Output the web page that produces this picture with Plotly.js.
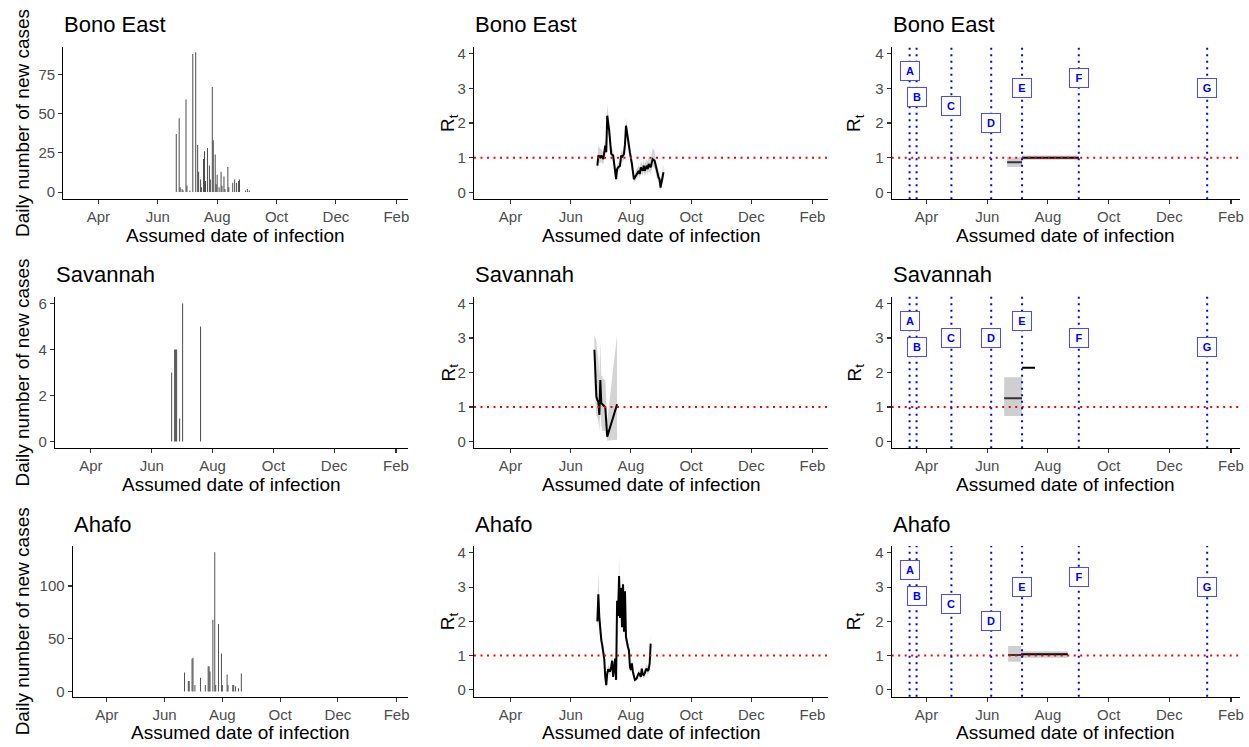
<!DOCTYPE html>
<html>
<head>
<meta charset="utf-8">
<script src="https://cdn.plot.ly/plotly-3.0.1.min.js"></script>
<style>html,body{margin:0;padding:0;background:#fff;}#chart{width:1249px;height:747px;}</style>
</head>
<body>
<div id="chart"></div>
<script>
// ---------------- DATA ----------------
const regions = ['Bono East', 'Savannah', 'Ahafo'];
const tickDates = ['2020-04-01','2020-06-01','2020-08-01','2020-10-01','2020-12-01','2021-02-01'];
const tickLabels = ['Apr','Jun','Aug','Oct','Dec','Feb'];

// Daily new cases
const beCaseDates = ['2020-06-20','2020-06-23','2020-06-24','2020-06-26','2020-06-27','2020-06-30','2020-07-01','2020-07-04','2020-07-07','2020-07-10','2020-07-12','2020-07-13','2020-07-15','2020-07-16','2020-07-18','2020-07-19','2020-07-20','2020-07-22','2020-07-24','2020-07-25','2020-07-27','2020-07-28','2020-07-30','2020-07-31','2020-08-01','2020-08-03','2020-08-05','2020-08-06','2020-08-08','2020-08-09','2020-08-12','2020-08-13','2020-08-17','2020-08-19','2020-08-21','2020-08-23','2020-08-24','2020-08-30','2020-09-01','2020-09-03'];
const beCases = [37,47,3,2,1,59,4,1,88,89,30,13,8,3,21,26,7,28,17,8,67,33,24,5,11,3,13,4,10,2,16,3,6,8,6,7,8,1,2,1];
const svCaseDates = ['2020-06-21','2020-06-24','2020-06-25','2020-06-26','2020-06-29','2020-07-02','2020-07-20'];
const svCases = [3,4,4,4,1,6,5];
const ahCaseDates = ['2020-06-22','2020-06-26','2020-06-27','2020-06-30','2020-07-01','2020-07-03','2020-07-09','2020-07-14','2020-07-17','2020-07-18','2020-07-19','2020-07-22','2020-07-24','2020-07-25','2020-07-28','2020-07-31','2020-08-01','2020-08-06','2020-08-07','2020-08-12','2020-08-13','2020-08-15','2020-08-18','2020-08-21'];
const ahCases = [18,10,10,31,32,6,13,6,24,24,19,68,132,6,64,36,6,16,6,6,6,5,3,17];

// Time-varying Rt (mean, lower, upper)
const beRtDates = ['2020-06-28','2020-06-29','2020-07-01','2020-07-02','2020-07-04','2020-07-06','2020-07-07','2020-07-08','2020-07-10','2020-07-11','2020-07-12','2020-07-14','2020-07-15','2020-07-17','2020-07-18','2020-07-19','2020-07-21','2020-07-22','2020-07-23','2020-07-25','2020-07-26','2020-07-27','2020-07-29','2020-07-30','2020-07-31','2020-08-02','2020-08-03','2020-08-04','2020-08-06','2020-08-07','2020-08-09','2020-08-10','2020-08-11','2020-08-13','2020-08-14','2020-08-15','2020-08-17','2020-08-18','2020-08-19','2020-08-21','2020-08-22','2020-08-23','2020-08-25','2020-08-26','2020-08-27','2020-08-29','2020-08-30','2020-08-31','2020-09-02','2020-09-03'];
const beRt   = [0.77,1.06,1.01,1.06,0.96,1.35,1.16,2.21,1.78,1.49,1.11,1.06,0.77,0.38,0.67,0.72,0.77,1.06,1.01,1.11,1.39,1.92,1.54,1.30,1.15,0.82,0.58,0.38,0.48,0.53,0.62,0.53,0.72,0.62,0.77,0.62,0.77,0.67,0.82,0.72,0.91,0.96,0.91,0.77,0.62,0.43,0.38,0.14,0.43,0.58];
const beRtLo = [0.60,0.85,0.85,0.88,0.80,1.15,1.00,1.90,1.55,1.30,0.95,0.90,0.62,0.28,0.55,0.60,0.64,0.90,0.86,0.95,1.20,1.70,1.36,1.14,1.00,0.70,0.47,0.28,0.36,0.40,0.48,0.40,0.56,0.48,0.60,0.46,0.60,0.50,0.62,0.54,0.70,0.74,0.70,0.56,0.44,0.28,0.24,0.05,0.25,0.38];
const beRtHi = [0.95,1.35,1.25,1.25,1.15,1.55,1.35,2.55,2.00,1.70,1.30,1.22,0.92,0.50,0.80,0.85,0.90,1.22,1.16,1.28,1.58,2.15,1.72,1.46,1.30,0.95,0.70,0.50,0.62,0.68,0.78,0.68,0.90,0.80,0.95,0.80,0.98,0.88,1.05,0.95,1.18,1.28,1.20,1.02,0.85,0.62,0.58,0.30,0.66,0.80];

const svRtDates = ['2020-06-25','2020-06-26','2020-06-27','2020-06-28','2020-06-29','2020-06-30','2020-07-01','2020-07-02','2020-07-03','2020-07-04','2020-07-05','2020-07-06','2020-07-08','2020-07-18'];
const svRt   = [2.66,1.90,1.30,1.20,1.15,0.77,1.78,1.11,1.06,1.05,1.02,1.00,0.14,1.08];
const svRtLo = [1.60,1.10,0.75,0.70,0.60,0.30,0.90,0.50,0.30,0.30,0.30,0.30,0.02,0.05];
const svRtHi = [3.10,3.00,2.90,2.60,2.40,1.90,2.90,1.90,1.90,1.80,1.80,1.80,0.60,3.10];

const ahRtDates = ['2020-06-28','2020-06-29','2020-06-30','2020-07-01','2020-07-02','2020-07-03','2020-07-04','2020-07-05','2020-07-06','2020-07-07','2020-07-08','2020-07-09','2020-07-10','2020-07-11','2020-07-12','2020-07-13','2020-07-14','2020-07-15','2020-07-16','2020-07-17','2020-07-18','2020-07-19','2020-07-20','2020-07-21','2020-07-22','2020-07-23','2020-07-24','2020-07-25','2020-07-26','2020-07-27','2020-07-28','2020-07-29','2020-07-30','2020-07-31','2020-08-01','2020-08-02','2020-08-03','2020-08-04','2020-08-05','2020-08-06','2020-08-07','2020-08-08','2020-08-09','2020-08-10','2020-08-11','2020-08-12','2020-08-13','2020-08-14','2020-08-15','2020-08-16','2020-08-17','2020-08-18','2020-08-19','2020-08-20','2020-08-21'];
const ahRt   = [2.0,2.79,2.1,1.7,1.45,1.3,1.06,0.9,0.38,0.14,0.48,0.6,0.55,0.55,0.67,0.85,0.38,0.58,0.91,0.29,2.6,2.16,3.32,2.1,2.98,1.83,3.08,1.7,2.88,1.54,1.35,1.25,1.15,0.67,0.58,0.77,0.53,0.34,0.29,0.31,0.34,0.43,0.48,0.45,0.38,0.62,0.45,0.43,0.48,0.58,0.62,0.55,0.6,0.77,1.35];
const ahRtLo = [1.6,2.3,1.7,1.4,1.2,1.1,0.9,0.75,0.28,0.08,0.36,0.48,0.44,0.44,0.54,0.7,0.28,0.46,0.76,0.2,2.3,1.9,2.95,1.85,2.65,1.6,2.75,1.5,2.6,1.36,1.2,1.1,1.02,0.58,0.5,0.67,0.45,0.28,0.23,0.25,0.28,0.36,0.4,0.37,0.3,0.52,0.36,0.34,0.38,0.47,0.5,0.43,0.48,0.62,1.1];
const ahRtHi = [2.4,3.45,2.5,2.0,1.7,1.5,1.25,1.08,0.5,0.22,0.6,0.74,0.68,0.68,0.82,1.02,0.5,0.72,1.08,0.4,2.95,2.45,3.95,2.4,3.35,2.08,3.45,1.92,3.2,1.74,1.52,1.4,1.3,0.78,0.68,0.88,0.63,0.42,0.36,0.38,0.42,0.52,0.58,0.55,0.47,0.74,0.55,0.53,0.6,0.7,0.76,0.68,0.74,0.94,1.62];

// Piecewise-constant Rt between interventions
const beStepStart = ['2020-06-21','2020-07-06'];
const beStepEnd   = ['2020-07-06','2020-09-01'];
const beStepRt    = [0.87, 1.00];
const beStepLo    = [0.73, 0.94];
const beStepHi    = [1.01, 1.06];
const svStepStart = ['2020-06-18','2020-07-06'];
const svStepEnd   = ['2020-07-06','2020-07-19'];
const svStepRt    = [1.25, 2.14];
const svStepLo    = [0.74, null];
const svStepHi    = [1.86, null];
const ahStepStart = ['2020-06-22','2020-07-05'];
const ahStepEnd   = ['2020-07-05','2020-08-21'];
const ahStepRt    = [1.02, 1.04];
const ahStepLo    = [0.82, 0.94];
const ahStepHi    = [1.28, 1.13];

// Interventions
const interventionDates = ['2020-03-15','2020-03-22','2020-04-26','2020-06-05','2020-07-06','2020-09-01','2021-01-08'];
const interventionLabels = ['A','B','C','D','E','F','G'];
const beLabelY = [3.5, 2.75, 2.5, 2.0, 3.0, 3.3, 3.0];
const svLabelY = [3.5, 2.75, 3.0, 3.0, 3.5, 3.0, 2.75];
const ahLabelY = [3.5, 2.75, 2.5, 2.0, 3.0, 3.3, 3.0];

// ---------------- LAYOUT / DRAW ----------------
const W = 1249, H = 747;
const rowsPx = [[46.7,199.3],[296.7,448.3],[546,696.7]];
const col1Left = [63.3, 55, 72.7];
const colPx = [null, [474, 828.3], [891.7, 1240]];
const col1Right = 408;
const xRanges = [['2020-02-25','2021-02-13'],['2020-02-24','2021-02-17'],['2020-02-26','2021-02-10']];
const caseRanges = [[-4.6, 92.6],[-0.3, 6.3],[-5, 138]];
const caseTicks = [[0,25,50,75],[0,2,4,6],[0,50,100]];

const caseData = [[beCaseDates, beCases],[svCaseDates, svCases],[ahCaseDates, ahCases]];
const rtData = [[beRtDates, beRt, beRtLo, beRtHi],[svRtDates, svRt, svRtLo, svRtHi],[ahRtDates, ahRt, ahRtLo, ahRtHi]];
const stepData = [[beStepStart, beStepEnd, beStepRt, beStepLo, beStepHi],[svStepStart, svStepEnd, svStepRt, svStepLo, svStepHi],[ahStepStart, ahStepEnd, ahStepRt, ahStepLo, ahStepHi]];
const labelYs = [beLabelY, svLabelY, ahLabelY];

const FONT = 'Liberation Sans, Arial, Helvetica, sans-serif';
const traces = [];
const layout = {
  width: W, height: H, margin: {l:0, r:0, t:0, b:0},
  paper_bgcolor: '#fff', plot_bgcolor: '#fff', showlegend: false,
  font: {family: FONT, color: '#000'},
  shapes: [], annotations: []
};

function axId(k){ return k === 1 ? '' : String(k); }

function xAxis(domainPx, range, anchor){
  return {domain:[domainPx[0]/W, domainPx[1]/W], range: range, anchor: anchor, type:'date',
    tickmode:'array', tickvals: tickDates, ticktext: tickLabels,
    showline:true, linecolor:'#000', linewidth:1.1, ticks:'outside', ticklen:4, tickwidth:1.1, tickcolor:'#333',
    tickfont:{size:15, color:'#4d4d4d', family: FONT}, showgrid:false, zeroline:false, fixedrange:true};
}
function yAxis(rowPx, range, tickvals, anchor){
  return {domain:[1-rowPx[1]/H, 1-rowPx[0]/H], range: range, anchor: anchor,
    tickmode:'array', tickvals: tickvals, ticktext: tickvals.map(String),
    showline:true, linecolor:'#000', linewidth:1.1, ticks:'outside', ticklen:4, tickwidth:1.1, tickcolor:'#333',
    tickfont:{size:15, color:'#4d4d4d', family: FONT}, showgrid:false, zeroline:false, fixedrange:true};
}

function addTitles(leftPx, rightPx, rowPx, title, ytitle, ytitleX){
  layout.annotations.push({xref:'paper', yref:'paper', x: (leftPx-1)/W, y: 1-(rowPx[0]-22)/H,
    xanchor:'left', yanchor:'middle', showarrow:false, text: title, font:{size:22, color:'#000', family: FONT}});
  layout.annotations.push({xref:'paper', yref:'paper', x: (leftPx+rightPx)/2/W, y: 1-(rowPx[1]+36)/H,
    xanchor:'center', yanchor:'middle', showarrow:false, text:'Assumed date of infection', font:{size:19, color:'#000', family: FONT}});
  layout.annotations.push({xref:'paper', yref:'paper', x: ytitleX/W, y: 1-(rowPx[0]+rowPx[1])/2/H,
    xanchor:'center', yanchor:'middle', showarrow:false, textangle:-90, text: ytitle, font:{size:19, color:'#000', family: FONT}});
}

for (let r = 0; r < 3; r++){
  const rowPx = rowsPx[r];
  // ---- column 1: incidence ----
  let k = r*3 + 1;
  let xa = 'x'+axId(k), ya = 'y'+axId(k);
  layout['xaxis'+axId(k)] = xAxis([col1Left[r], col1Right], xRanges[0], ya);
  layout['yaxis'+axId(k)] = yAxis(rowPx, caseRanges[r], caseTicks[r], xa);
  traces.push({type:'bar', x: caseData[r][0], y: caseData[r][1], width: 0.95*86400000,
    marker:{color:'#3f3f3f', line:{width:0}}, xaxis: xa, yaxis: ya, hoverinfo:'skip'});
  addTitles(col1Left[r], col1Right, rowPx, regions[r], 'Daily number of new cases', 22);

  // ---- column 2: time-varying Rt ----
  k = r*3 + 2;
  xa = 'x'+axId(k); ya = 'y'+axId(k);
  layout['xaxis'+axId(k)] = xAxis(colPx[1], xRanges[1], ya);
  layout['yaxis'+axId(k)] = yAxis(rowPx, [-0.2, 4.2], [0,1,2,3,4], xa);
  const rd = rtData[r];
  traces.push({type:'scatter', mode:'lines', x: rd[0], y: rd[2], line:{width:0, color:'rgba(0,0,0,0)'}, xaxis: xa, yaxis: ya, hoverinfo:'skip'});
  traces.push({type:'scatter', mode:'lines', x: rd[0], y: rd[3], fill:'tonexty', fillcolor:'rgba(160,160,160,0.45)', line:{width:0, color:'rgba(0,0,0,0)'}, xaxis: xa, yaxis: ya, hoverinfo:'skip'});
  traces.push({type:'scatter', mode:'lines', x: rd[0], y: rd[1], line:{width:2, color:'#000'}, xaxis: xa, yaxis: ya, hoverinfo:'skip'});
  layout.shapes.push({type:'line', xref: xa+' domain', yref: ya, x0:0, x1:1, y0:1, y1:1, layer:'above',
    line:{color:'#ff0000', width:2, dash:'2px,4.5px'}});
  addTitles(colPx[1][0], colPx[1][1], rowPx, regions[r], 'R<sub>t</sub>', 449);

  // ---- column 3: piecewise Rt with interventions ----
  k = r*3 + 3;
  xa = 'x'+axId(k); ya = 'y'+axId(k);
  layout['xaxis'+axId(k)] = xAxis(colPx[2], xRanges[2], ya);
  layout['yaxis'+axId(k)] = yAxis(rowPx, [-0.2, 4.2], [0,1,2,3,4], xa);
  const sd = stepData[r];
  for (let i = 0; i < sd[0].length; i++){
    if (sd[3][i] !== null){
      traces.push({type:'scatter', mode:'lines', x:[sd[0][i], sd[1][i]], y:[sd[3][i], sd[3][i]], line:{width:0, color:'rgba(0,0,0,0)'}, xaxis: xa, yaxis: ya, hoverinfo:'skip'});
      traces.push({type:'scatter', mode:'lines', x:[sd[0][i], sd[1][i]], y:[sd[4][i], sd[4][i]], fill:'tonexty', fillcolor:'rgba(160,160,160,0.5)', line:{width:0, color:'rgba(0,0,0,0)'}, xaxis: xa, yaxis: ya, hoverinfo:'skip'});
    }
    traces.push({type:'scatter', mode:'lines', x:[sd[0][i], sd[1][i]], y:[sd[2][i], sd[2][i]], line:{width:2, color: i === 0 ? '#333' : '#000'}, xaxis: xa, yaxis: ya, hoverinfo:'skip'});
  }
  layout.shapes.push({type:'line', xref: xa+' domain', yref: ya, x0:0, x1:1, y0:1, y1:1, layer:'above',
    line:{color:'#ff0000', width:2, dash:'2px,4.5px'}});
  for (let i = 0; i < interventionDates.length; i++){
    layout.shapes.push({type:'line', xref: xa, yref: ya+' domain', x0: interventionDates[i], x1: interventionDates[i], y0:0, y1:1, layer:'above',
      line:{color:'#0000ff', width:2, dash:'2px,4.5px'}});
    layout.annotations.push({xref: xa, yref: ya, x: interventionDates[i], y: labelYs[r][i], showarrow:false,
      text:'<b>'+interventionLabels[i]+'</b>', font:{size:11, color:'#0000ff', family: FONT},
      bgcolor:'#ffffff', bordercolor:'#4a4aff', borderwidth:1, borderpad:3, width:12, height:12, xanchor:'center', yanchor:'middle'});
  }
  addTitles(colPx[2][0], colPx[2][1], rowPx, regions[r], 'R<sub>t</sub>', 855);
}

Plotly.newPlot('chart', traces, layout, {displayModeBar:false, staticPlot:true});
</script>
</body>
</html>
